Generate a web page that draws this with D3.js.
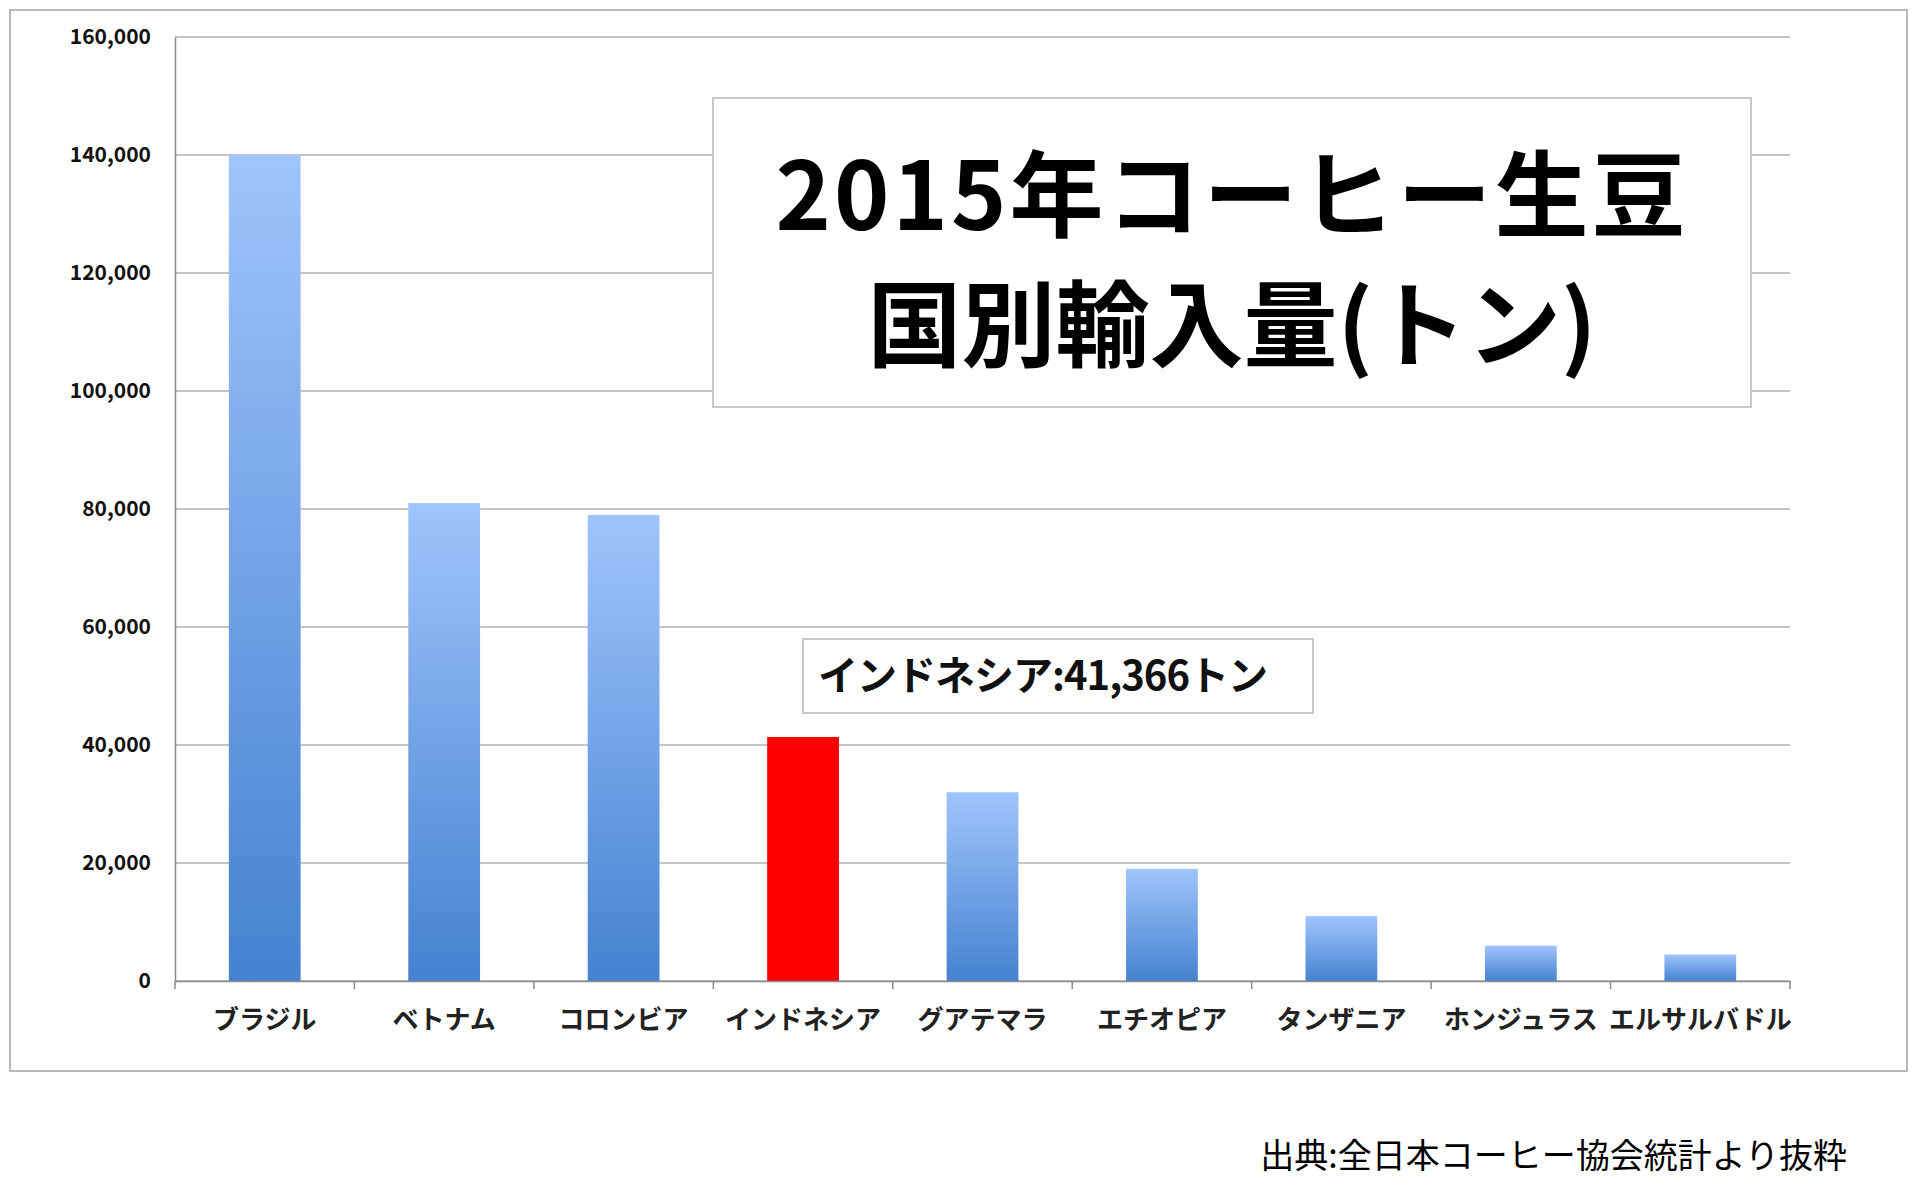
<!DOCTYPE html>
<html><head><meta charset="utf-8">
<script src="https://cdn.jsdelivr.net/npm/d3@7"></script>
<style>body{margin:0;background:#fff}text{font-family:"Noto Sans CJK JP","Noto Sans",sans-serif}</style>
</head><body>
<svg id="chart" width="1920" height="1200"></svg>
<script>
var categories = ["ブラジル","ベトナム","コロンビア","インドネシア","グアテマラ","エチオピア","タンザニア","ホンジュラス","エルサルバドル"];
var values = [140000, 81000, 79000, 41366, 32000, 19000, 11000, 6000, 4500];
var yTicks = [0,20000,40000,60000,80000,100000,120000,140000,160000];
var highlight = "インドネシア";

var svg = d3.select("#chart");
var defs = svg.append("defs");
var grad = defs.append("linearGradient").attr("id","barGrad").attr("x1",0).attr("y1",0).attr("x2",0).attr("y2",1);
grad.append("stop").attr("offset","0%").attr("stop-color","#a0c4fc");
grad.append("stop").attr("offset","100%").attr("stop-color","#4582d0");

//outer frame
svg.append("rect").attr("x",10).attr("y",10).attr("width",1897).attr("height",1061)
    .attr("fill","#fff").attr("stroke","#b8b8b8").attr("stroke-width",2);

var x = d3.scaleBand().domain(categories).range([175,1790]).paddingInner(0.6).paddingOuter(0.3);
var y = d3.scaleLinear().domain([0,160000]).range([981,37]);

//grid
svg.append("g").selectAll("line").data(yTicks).join("line")
    .attr("x1",175).attr("x2",1790).attr("y1",d=>y(d)).attr("y2",d=>y(d))
    .attr("stroke","#8a8a8a").attr("stroke-width",1.2);

var yAxis = svg.append("g").attr("transform","translate(175,0)")
    .call(d3.axisLeft(y).tickValues(yTicks).tickFormat(d3.format(",")).tickSize(0).tickPadding(24));
yAxis.select(".domain").attr("stroke","#8a8a8a").attr("stroke-width",1.5);
yAxis.selectAll("text").attr("font-size",21).attr("fill","#111").attr("font-weight","bold")
    .attr("font-family","Liberation Sans, sans-serif");

//bars
svg.append("g").selectAll("rect").data(categories).join("rect")
    .attr("x",d=>x(d)).attr("width",x.bandwidth())
    .attr("y",(d,i)=>y(values[i])).attr("height",(d,i)=>y(0)-y(values[i]))
    .attr("fill",d=>d===highlight ? "#ff0000" : "url(#barGrad)");

var xAxis = svg.append("g").attr("transform","translate(0,981)")
    .call(d3.axisBottom(x).tickSize(0).tickPadding(30));
xAxis.select(".domain").attr("stroke","#8a8a8a").attr("stroke-width",1.5);
xAxis.selectAll("text").attr("font-size",26).attr("font-weight","bold").attr("fill","#222");
//separator ticks between categories
var bounds = categories.map(d=>x(d)-x.step()*x.paddingInner()/2).concat([1790]);
svg.append("g").selectAll("line").data(bounds).join("line")
    .attr("x1",d=>d).attr("x2",d=>d).attr("y1",981).attr("y2",989)
    .attr("stroke","#8a8a8a").attr("stroke-width",1.5);

//title box
svg.append("rect").attr("x",713).attr("y",98).attr("width",1038).attr("height",309)
    .attr("fill","#fff").attr("stroke","#c8c8c8").attr("stroke-width",2);
svg.append("text").attr("x",1232).attr("y",230).attr("text-anchor","middle")
    .attr("font-size",94).attr("font-weight","bold").attr("letter-spacing",3).attr("fill","#000").text("2015年コーヒー生豆");
svg.append("text").attr("x",1232).attr("y",360).attr("text-anchor","middle")
    .attr("font-size",94).attr("font-weight","bold").attr("fill","#000").text("国別輸入量(トン)");

//annotation box
svg.append("rect").attr("x",803).attr("y",639).attr("width",510).attr("height",74)
    .attr("fill","#fff").attr("stroke","#c8c8c8").attr("stroke-width",2);
svg.append("text").attr("x",818).attr("y",690).attr("font-size",40).attr("font-weight","bold")
    .attr("letter-spacing",-1).attr("fill","#111").text("インドネシア:" + d3.format(",")(values[3]) + "トン");

//source
svg.append("text").attr("x",1847).attr("y",1168).attr("text-anchor","end")
    .attr("font-size",34).attr("fill","#000").text("出典:全日本コーヒー協会統計より抜粋");
</script>
</body></html>
